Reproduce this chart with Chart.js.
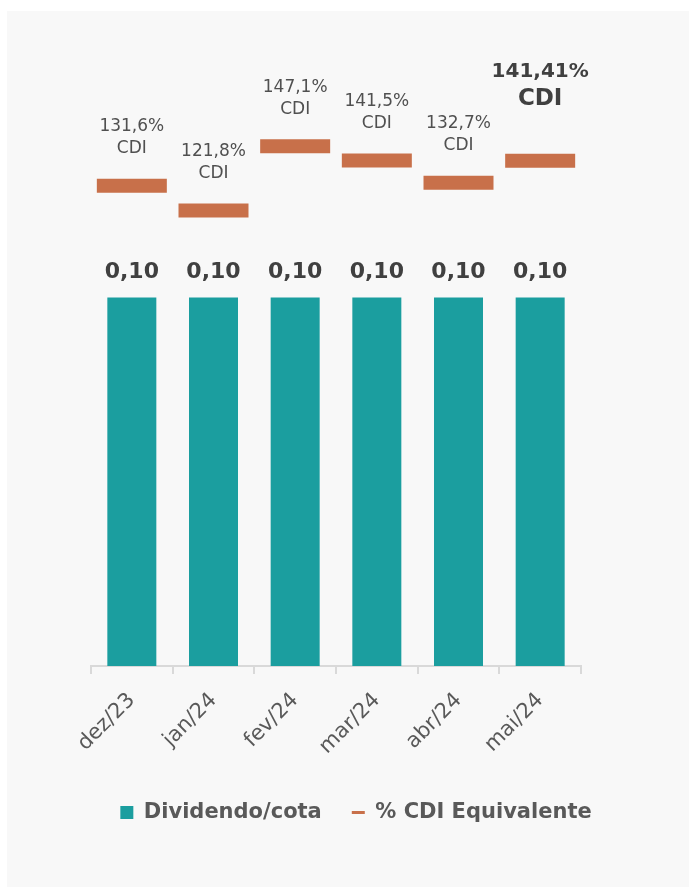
<!DOCTYPE html>
<html>
<head>
<meta charset="utf-8">
<script src="https://cdn.jsdelivr.net/npm/chart.js@4.4.1/dist/chart.umd.min.js"></script>
<style>
  html, body { margin: 0; padding: 0; background: #ffffff; }
  #painel { position: absolute; left: 7px; top: 11px; width: 682px; height: 876px; background: #f8f8f8; }
</style>
</head>
<body>
<div id="painel"><canvas id="graficoDividendos"></canvas></div>
<script>
const meses = ['dez/23', 'jan/24', 'fev/24', 'mar/24', 'abr/24', 'mai/24'];
const dividendos = [0.10, 0.10, 0.10, 0.10, 0.10, 0.10];
const cdiEquivalente = [131.6, 121.8, 147.1, 141.5, 132.7, 141.41];

const fonte = "'DejaVu Sans', sans-serif";
const corBarra = '#1b9e9f';
const corCdi = '#c8704a';

// rótulos de valor acima das barras e dos marcadores de CDI
const rotulos = {
  id: 'rotulos',
  afterDatasetsDraw(chart) {
    const ctx = chart.ctx;
    ctx.save();
    ctx.textAlign = 'center';
    ctx.textBaseline = 'middle';
    ctx.fillStyle = '#404040';
    ctx.font = 'bold 22px ' + fonte;
    chart.getDatasetMeta(0).data.forEach((barra, i) => {
      ctx.fillText(dividendos[i].toFixed(2).replace('.', ','), barra.x, barra.y - 25);
    });
    const ultimo = cdiEquivalente.length - 1;
    chart.getDatasetMeta(1).data.forEach((ponto, i) => {
      const texto = String(cdiEquivalente[i]).replace('.', ',') + '%';
      if (i === ultimo) {
        ctx.font = 'bold 20px ' + fonte;
        ctx.fillText(texto, ponto.x, ponto.y - 89);
        ctx.font = 'bold 23px ' + fonte;
        ctx.fillText('CDI', ponto.x, ponto.y - 62);
      } else {
        ctx.fillStyle = '#505050';
        ctx.font = '17px ' + fonte;
        ctx.fillText(texto, ponto.x, ponto.y - 59);
        ctx.fillText('CDI', ponto.x, ponto.y - 37);
        ctx.fillStyle = '#404040';
      }
    });
    ctx.restore();
  }
};

// eixos verticais invisíveis, só para reservar as margens laterais
const eixoOculto = (largura) => ({
  display: true,
  grid: { display: false },
  border: { display: false },
  ticks: { display: false },
  afterFit(scale) { scale.width = largura; }
});

new Chart(document.getElementById('graficoDividendos'), {
  data: {
    labels: meses,
    datasets: [
      {
        type: 'bar',
        label: 'Dividendo/cota',
        data: dividendos,
        backgroundColor: corBarra,
        yAxisID: 'y',
        barPercentage: 0.6,
        categoryPercentage: 1
      },
      {
        type: 'line',
        label: '% CDI Equivalente',
        data: cdiEquivalente,
        yAxisID: 'y2',
        showLine: false,
        pointStyle: 'line',
        pointRadius: 35,
        pointHoverRadius: 35,
        pointBorderWidth: 14,
        pointHoverBorderWidth: 14,
        borderColor: corCdi,
        backgroundColor: corCdi
      }
    ]
  },
  options: {
    responsive: true,
    maintainAspectRatio: false,
    animation: false,
    events: [],
    layout: { padding: { left: 16, right: 0, top: 52, bottom: 54 } },
    scales: {
      x: {
        grid: { offset: true, drawOnChartArea: false, drawTicks: true, tickLength: 8, color: '#d9d9d9', lineWidth: 2 },
        border: { display: true, color: '#d9d9d9', width: 2 },
        ticks: { minRotation: 45, maxRotation: 45, color: '#595959', padding: 14, font: { family: fonte, size: 21 } },
        afterFit(scale) { scale.height = 106; }
      },
      y: { ...eixoOculto(68), min: 0, max: 0.1636 },
      y2: { ...eixoOculto(108), position: 'right', min: -58, max: 180 }
    },
    plugins: {
      tooltip: { enabled: false },
      legend: {
        position: 'bottom',
        align: 'center',
        labels: {
          usePointStyle: true,
          pointStyleWidth: 13,
          boxHeight: 13,
          padding: 30,
          color: '#595959',
          font: { family: fonte, size: 21, weight: 'bold' },
          generateLabels(chart) {
            const itens = Chart.defaults.plugins.legend.labels.generateLabels(chart);
            itens[0].pointStyle = 'rect';
            itens[0].lineWidth = 0;
            itens[1].pointStyle = 'line';
            itens[1].lineWidth = 3;
            itens[1].strokeStyle = corCdi;
            return itens;
          }
        }
      }
    }
  },
  plugins: [rotulos]
});
</script>
</body>
</html>
